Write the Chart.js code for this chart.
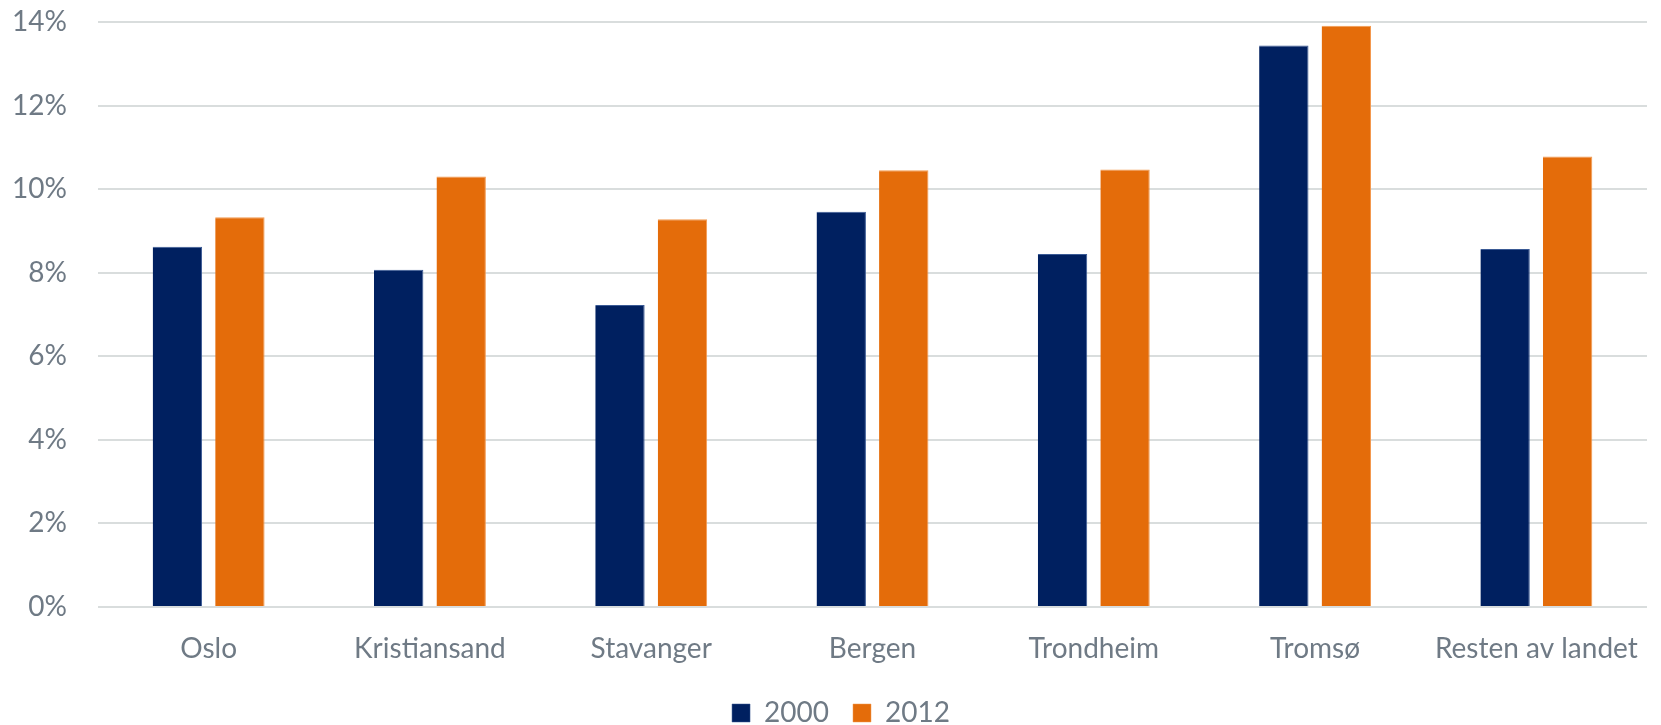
<!DOCTYPE html>
<html>
<head>
<meta charset="utf-8">
<script src="https://cdn.jsdelivr.net/npm/chart.js@4/dist/chart.umd.min.js"></script>
<style>
  html, body { margin: 0; padding: 0; background: #fff; }
  #wrap { width: 1661px; height: 725px; position: relative; }
</style>
</head>
<body>
<div id="wrap"><canvas id="chart"></canvas></div>
<script>
// Data
const byer = ['Oslo', 'Kristiansand', 'Stavanger', 'Bergen', 'Trondheim', 'Tromsø', 'Resten av landet'];
const andel2000 = [8.62, 8.07, 7.23, 9.46, 8.45, 13.44, 8.57];
const andel2012 = [9.33, 10.30, 9.28, 10.45, 10.47, 13.91, 10.78];
const yTicks = [0, 2, 4, 6, 8, 10, 12, 14];

const textColor = '#6f7a85';
const gridColor = '#d9dddd';
const fontFam = 'Lato, "Open Sans", sans-serif';

// Legend a bit lower and a bit to the right
const legendPlace = {
  id: 'legendPlace',
  beforeInit(chart) {
    const lg = chart.legend;
    if (!lg) return;
    const origFit = lg.fit;
    lg.fit = function () {
      origFit.call(this);
      this.height = 50;
    };
  },
  afterLayout(chart) {
    if (chart.legend) chart.legend.left += 23;
  }
};

const ctx = document.getElementById('chart').getContext('2d');
new Chart(ctx, {
  type: 'bar',
  data: {
    labels: byer,
    datasets: [
      {
        label: '2000',
        data: andel2000,
        backgroundColor: '#002060',
        borderColor: '#3a5a95',
        borderWidth: { top: 1, left: 0, right: 1, bottom: 0 },
        categoryPercentage: 0.565,
        barPercentage: 0.79
      },
      {
        label: '2012',
        data: andel2012,
        backgroundColor: '#e46c0a',
        borderColor: '#f39a50',
        borderWidth: { top: 1, left: 0, right: 1, bottom: 0 },
        categoryPercentage: 0.565,
        barPercentage: 0.79
      }
    ]
  },
  plugins: [legendPlace],
  options: {
    responsive: true,
    maintainAspectRatio: false,
    animation: false,
    layout: { padding: { left: 12, right: 14, top: 22, bottom: 0 } },
    plugins: {
      tooltip: { enabled: false },
      legend: {
        position: 'bottom',
        labels: {
          boxWidth: 18,
          boxHeight: 18,
          padding: 24,
          color: textColor,
          font: { family: fontFam, size: 28, lineHeight: 1 }
        }
      }
    },
    scales: {
      x: {
        grid: { display: false, drawTicks: false },
        border: { display: false },
        ticks: {
          color: textColor,
          padding: 28,
          maxRotation: 0,
          font: { family: fontFam, size: 28, lineHeight: 1 }
        },
        afterFit(scale) {
          scale.height = 68;
          scale.paddingLeft = 0;
          scale.paddingRight = 0;
        }
      },
      y: {
        min: 0,
        max: yTicks[yTicks.length - 1],
        afterBuildTicks(scale) { scale.ticks = yTicks.map(v => ({ value: v })); },
        grid: { color: gridColor, lineWidth: 2, drawTicks: false },
        border: { display: false },
        ticks: {
          color: textColor,
          padding: 31,
          font: { family: fontFam, size: 28 },
          callback: v => v + '%'
        },
        afterFit(scale) {
          scale.width = 86;
          scale.paddingTop = 10;
          scale.paddingBottom = 10;
        }
      }
    }
  }
});
</script>
</body>
</html>
